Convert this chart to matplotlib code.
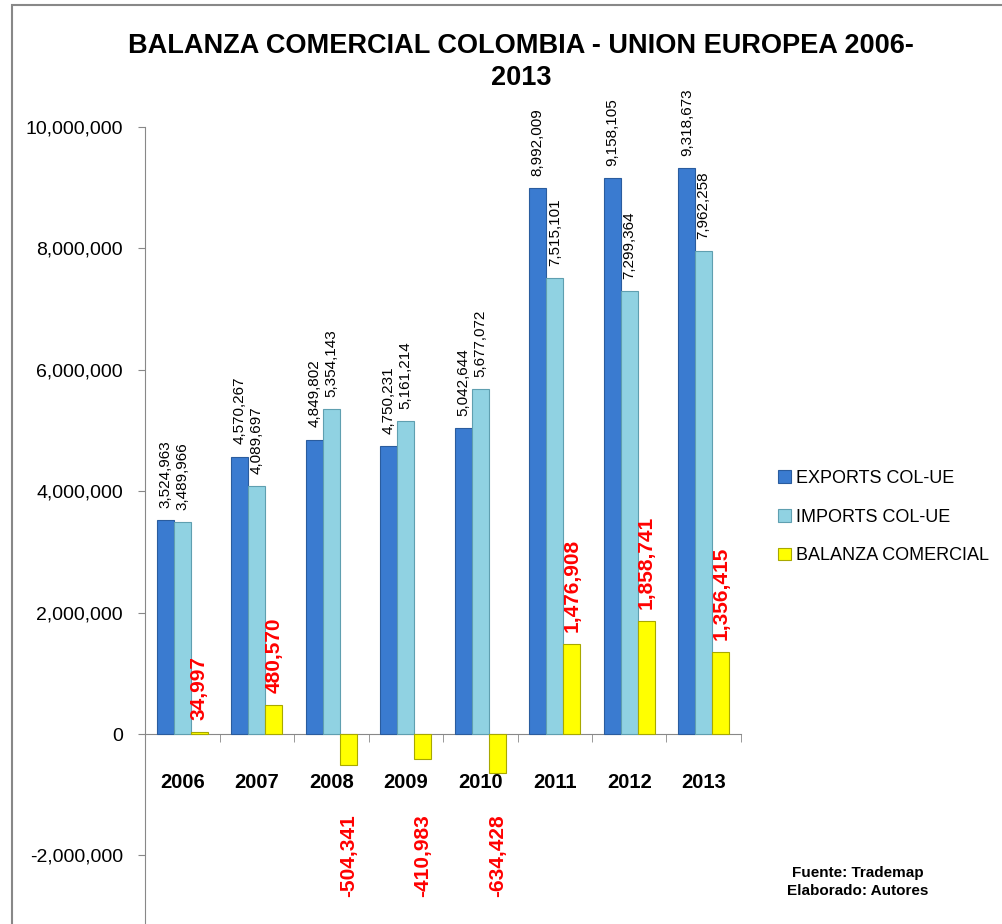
import matplotlib
matplotlib.use('Agg')
import matplotlib.pyplot as plt
from matplotlib.patches import Rectangle
from matplotlib.ticker import FuncFormatter, FixedLocator
import numpy as np

plt.rcParams['font.family'] = ['Liberation Sans', 'DejaVu Sans']

years = ['2006', '2007', '2008', '2009', '2010', '2011', '2012', '2013']
exports = [3524963, 4570267, 4849802, 4750231, 5042644, 8992009, 9158105, 9318673]
imports = [3489966, 4089697, 5354143, 5161214, 5677072, 7515101, 7299364, 7962258]
balance = [34997, 480570, -504341, -410983, -634428, 1476908, 1858741, 1356415]

fig = plt.figure(figsize=(10.02, 9.24), dpi=100)
ax = fig.add_axes([145 / 1002, 0, 596 / 1002, 1 - 127 / 924])

x = np.arange(len(years))
w = 0.228
b1 = ax.bar(x - w, exports, w, color='#3a7bd0', edgecolor='#2a5c9e', linewidth=0.8,
            label='EXPORTS COL-UE', zorder=3)
b2 = ax.bar(x, imports, w, color='#90d2e2', edgecolor='#5f9fb0', linewidth=0.8,
            label='IMPORTS COL-UE', zorder=3)
b3 = ax.bar(x + w, balance, w, color='#ffff00', edgecolor='#a8a800', linewidth=0.8,
            label='BALANZA COMERCIAL', zorder=3)

# value labels
for xi, v in zip(x - w, exports):
    ax.text(xi, v + 0.2e6, f'{v:,}', rotation=90, ha='center', va='bottom', fontsize=11)
for xi, v in zip(x, imports):
    ax.text(xi, v + 0.2e6, f'{v:,}', rotation=90, ha='center', va='bottom', fontsize=11)
for xi, v in zip(x + w, balance):
    if v >= 0:
        ax.text(xi, v + 0.2e6, f'{v:,}', rotation=90, ha='center', va='bottom',
                fontsize=15, fontweight='bold', color='#ff0000')
    else:
        ax.text(xi, -2.0e6, f'{v:,}', rotation=90, ha='center', va='center',
                fontsize=15, fontweight='bold', color='#ff0000')

ax.set_xlim(-0.5, len(years) - 0.5)
ax.set_ylim(-3.13e6, 10e6)
ax.set_yticks(np.arange(-2e6, 10.1e6, 2e6))
ax.yaxis.set_major_formatter(FuncFormatter(lambda v, p: f'{int(v):,}'))
ax.tick_params(axis='y', labelsize=14, length=5, color='#888888', pad=11)

ax.spines['bottom'].set_position(('data', 0))
ax.spines['top'].set_visible(False)
ax.spines['right'].set_visible(False)
ax.spines['left'].set_color('#888888')
ax.spines['bottom'].set_color('#888888')

ax.set_xticks(x)
ax.set_xticklabels(years, fontsize=14.5, fontweight='bold')
ax.tick_params(axis='x', which='major', length=0, pad=28)
ax.xaxis.set_minor_locator(FixedLocator(np.arange(len(years) + 1) - 0.5))
ax.tick_params(axis='x', which='minor', length=6, color='#888888')

fig.text(0.52, 1 - 62 / 924, 'BALANZA COMERCIAL COLOMBIA - UNION EUROPEA 2006-\n2013',
         ha='center', va='center', fontsize=19.5, fontweight='bold', linespacing=1.3)

leg = fig.legend(handles=[b1, b2, b3], loc='center left', bbox_to_anchor=(762 / 1002, 1 - 517 / 924),
                 frameon=False, fontsize=13, handlelength=0.7, handleheight=0.7,
                 handletextpad=0.3, labelspacing=1.2)

fig.text(858 / 1002, 1 - 882 / 924, 'Fuente: Trademap\nElaborado: Autores', ha='center', va='center',
         fontsize=11, fontweight='bold', linespacing=1.3)

fig.patches.append(Rectangle((12 / 1002, -0.01), 1.0, 1 - 5 / 924 + 0.01, transform=fig.transFigure,
                             fill=False, edgecolor='#888888', linewidth=1.5))

fig.savefig('out.png', dpi=100)
